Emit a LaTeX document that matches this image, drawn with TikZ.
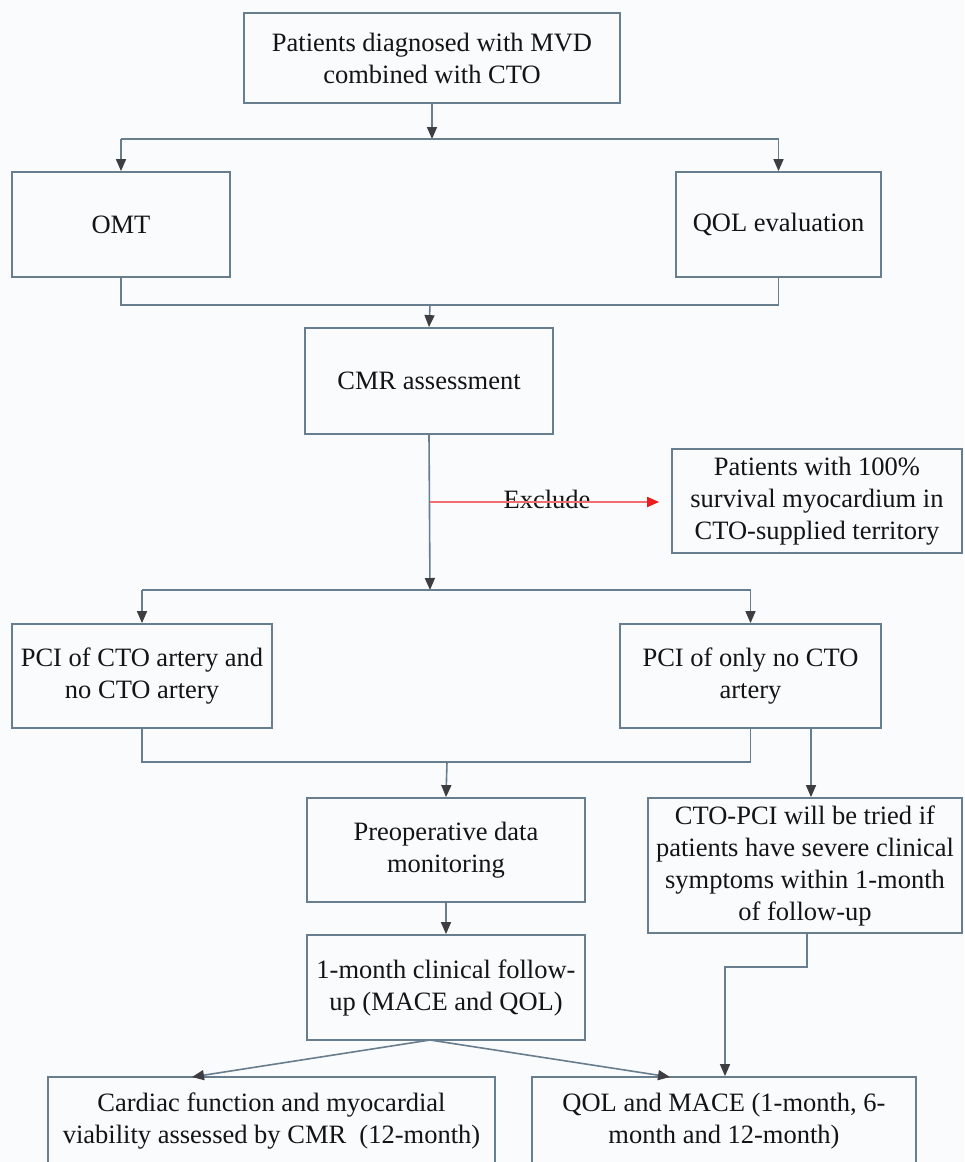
\documentclass[tikz,border=0pt]{standalone}
\usepackage{fontspec}
\setmainfont{Liberation Serif}
\usetikzlibrary{arrows.meta}
\definecolor{bgc}{RGB}{250,251,253}
\definecolor{lnc}{RGB}{104,126,142}
\definecolor{tipc}{RGB}{62,62,66}
\definecolor{txc}{RGB}{20,20,20}
\definecolor{redl}{RGB}{240,110,110}
\definecolor{redt}{RGB}{235,30,30}
\tikzset{
  box/.style={draw=lnc, line width=1.8pt, align=center, inner sep=0pt, text=txc,
    font=\fontsize{26.5}{32}\selectfont},
  ln/.style={draw=lnc, line width=1.6pt},
  arr/.style={ln, -{Triangle[length=12pt,width=10pt,color=tipc]}},
  redarr/.style={draw=redl, line width=2pt, -{Triangle[length=12pt,width=10pt,color=redt]}},
}
\begin{document}
\begin{tikzpicture}[x=1pt,y=-1pt]
\useasboundingbox (0,0) rectangle (964,1162);
\fill[bgc] (0,0) rectangle (964,1162);

\node[box, minimum width=376pt, minimum height=90pt] (top) at (432,58) {Patients diagnosed with MVD\\combined with CTO};
\node[box, minimum width=218pt, minimum height=105pt] (omt) at (121,224.5) {OMT};
\node[box, minimum width=205pt, minimum height=105pt] (qol) at (778.5,224.5) {QOL evaluation};
\node[box, minimum width=248pt, minimum height=106pt] (cmr) at (429,381) {CMR assessment};
\node[box, minimum width=290pt, minimum height=104pt] (excl) at (817,501) {Patients with 100\%\\survival myocardium in\\CTO-supplied territory};
\node[box, minimum width=260pt, minimum height=104pt] (pcil) at (142,676) {PCI of CTO artery and\\no CTO artery};
\node[box, minimum width=261pt, minimum height=104pt] (pcir) at (750.5,676) {PCI of only no CTO\\artery};
\node[box, minimum width=278pt, minimum height=104pt] (preop) at (446,850) {Preoperative data\\monitoring};
\node[box, minimum width=314pt, minimum height=135pt] (cto) at (805,865.5) {CTO-PCI will be tried if\\patients have severe clinical\\symptoms within 1-month\\of follow-up};
\node[box, minimum width=278pt, minimum height=105pt] (m1) at (446,987.5) {1-month clinical follow-\\up (MACE and QOL)};
\node[box, minimum width=447pt, minimum height=89pt] (card) at (271.5,1121.5) {Cardiac function and myocardial\\viability assessed by CMR~ (12-month)};
\node[box, minimum width=384pt, minimum height=89pt] (qm) at (724,1121.5) {QOL and MACE (1-month, 6-\\month and 12-month)};

% coordinates
\coordinate (b1) at (432,139);
\coordinate (b2) at (430,305);
\coordinate (b3) at (430,590);
\coordinate (b4) at (447,762);
\coordinate (ex) at (430,502);
\coordinate (pr) at (811,0);
\coordinate (dg) at (430,1040);
\coordinate (cl) at (192,1077);
\coordinate (cr) at (670,1077);
\coordinate (cb) at (807,967);
\coordinate (cd) at (725,967);

% level 1
\draw[arr] (top.south) -- (b1);
\draw[ln] (omt.north |- b1) -- (qol.north |- b1);
\draw[arr] (omt.north |- b1) -- (omt.north);
\draw[arr] (qol.north |- b1) -- (qol.north);
% join to CMR
\draw[ln] (omt.south) -- (omt.south |- b2) -- (qol.south |- b2) -- (qol.south);
\draw[arr] (b2) -- (cmr.north);
% CMR down
\draw[arr] (cmr.south) -- (b3);
\node[font=\fontsize{26.5}{32}\selectfont, text=txc, inner sep=0pt] (exl) at (547,499) {Exclude};
\draw[redarr, shorten >=12pt] (ex) -- (excl.west |- ex);
% PCI split
\draw[ln] (pcil.north |- b3) -- (pcir.north |- b3);
\draw[arr] (pcil.north |- b3) -- (pcil.north);
\draw[arr] (pcir.north |- b3) -- (pcir.north);
% join to preop
\draw[ln] (pcil.south) -- (pcil.south |- b4) -- (pcir.south |- b4) -- (pcir.south);
\draw[arr] (b4) -- (preop.north);
\draw[arr] (pcir.south -| pr) -- (cto.north -| pr);
% preop to 1-month
\draw[arr] (preop.south) -- (m1.north);
% diagonals
\draw[arr] (dg) -- (cl);
\draw[arr] (dg) -- (cr);
% CTO-PCI to QOL/MACE
\draw[arr] (cto.south -| cb) -- (cb) -- (cd) -- (qm.north -| cd);
\end{tikzpicture}
\end{document}
